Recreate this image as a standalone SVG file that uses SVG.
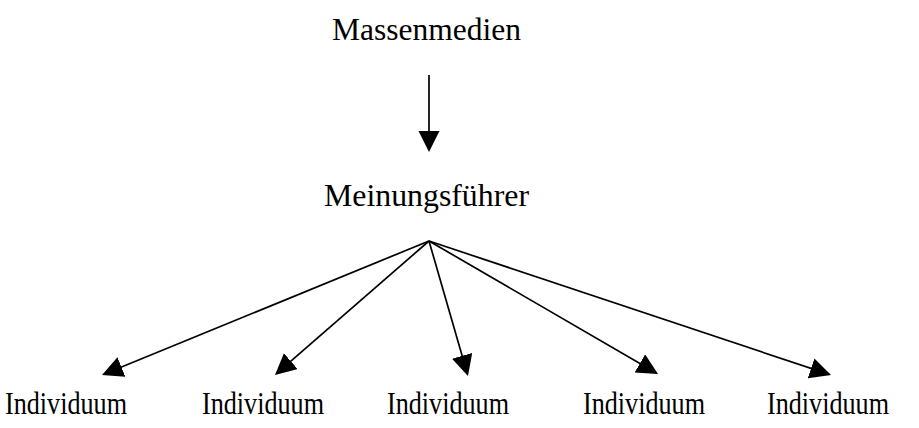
<svg xmlns="http://www.w3.org/2000/svg" width="919" height="428" viewBox="0 0 919 428">
  <style>
    .label { font-family: "Liberation Serif", "Times New Roman", serif; font-size: 31px; fill: #000; }
    .edge { stroke: #000; stroke-width: 1.7; fill: none; marker-end: url(#head); }
  </style>
  <defs>
    <marker id="head" markerUnits="userSpaceOnUse" markerWidth="22" markerHeight="22" refX="19" refY="10.5" orient="auto">
      <path d="M0,0 L21,10.5 L0,21 Z" fill="#000"/>
    </marker>
  </defs>
  <rect width="919" height="428" fill="#fff"/>

  <g id="massenmedien">
    <text class="label" x="332" y="40" textLength="189" lengthAdjust="spacingAndGlyphs">Massenmedien</text>
  </g>
  <g id="meinungsfuehrer">
    <text class="label" x="324" y="206" textLength="205" lengthAdjust="spacingAndGlyphs">Meinungsführer</text>
  </g>
  <g id="individuum-1">
    <text class="label" x="5" y="414" textLength="122" lengthAdjust="spacingAndGlyphs">Individuum</text>
  </g>
  <g id="individuum-2">
    <text class="label" x="202" y="414" textLength="122" lengthAdjust="spacingAndGlyphs">Individuum</text>
  </g>
  <g id="individuum-3">
    <text class="label" x="387" y="414" textLength="122" lengthAdjust="spacingAndGlyphs">Individuum</text>
  </g>
  <g id="individuum-4">
    <text class="label" x="583" y="414" textLength="122" lengthAdjust="spacingAndGlyphs">Individuum</text>
  </g>
  <g id="individuum-5">
    <text class="label" x="767" y="414" textLength="122" lengthAdjust="spacingAndGlyphs">Individuum</text>
  </g>

  <g id="connectors">
    <line class="edge" x1="429" y1="75" x2="429" y2="150"/>
    <line class="edge" x1="429" y1="241" x2="103.85" y2="374.24"/>
    <line class="edge" x1="429" y1="241" x2="276.5" y2="373.7"/>
    <line class="edge" x1="429" y1="241" x2="467.4" y2="374.1"/>
    <line class="edge" x1="429" y1="241" x2="656.3" y2="373.0"/>
    <line class="edge" x1="429" y1="241" x2="829.1" y2="374.4"/>
  </g>
</svg>
